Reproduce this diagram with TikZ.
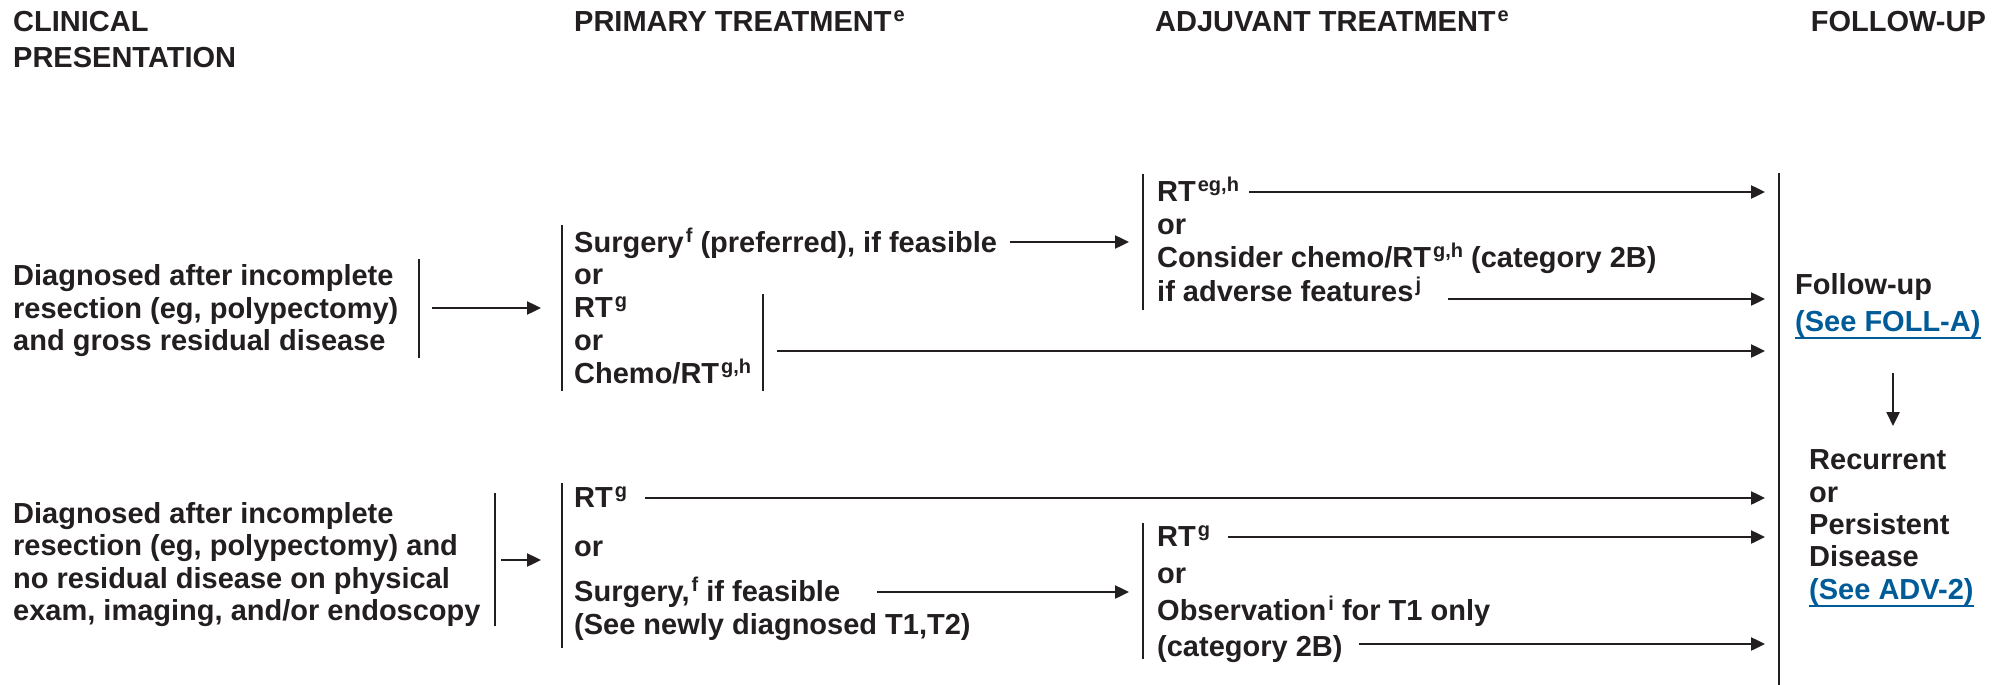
\documentclass[tikz,border=0pt]{standalone}
\usepackage{fontspec}
\setmainfont{Liberation Sans}
\usetikzlibrary{arrows.meta}
\definecolor{ink}{HTML}{231F20}
\definecolor{linkblue}{RGB}{0,91,153}
% raised footnote letters
\newcommand\sups[1]{\kern2pt\raisebox{0.34em}{\fontsize{20}{20}\selectfont #1}}
\begin{document}
\begin{tikzpicture}[x=1pt,y=-1pt,
  txt/.style={inner sep=0pt, anchor=base west, text=ink,
              font=\fontsize{29}{32}\selectfont\bfseries},
  lnk/.style={txt, text=linkblue},
  bar/.style={draw=ink, line width=2pt},
  arr/.style={draw=ink, line width=2.4pt, -{Triangle[length=14pt,width=13pt]}},
  uline/.style={draw=linkblue, line width=1.8pt}]
\useasboundingbox (0,0) rectangle (2005,685);

% ---- column headings
\node[txt] (hClin) at (13,31.5) {CLINICAL};
\node[txt] (hPres) at (13,67) {PRESENTATION};
\node[txt] (hPrim) at (574,31.5) {PRIMARY TREATMENT\sups{e}};
\node[txt] (hAdj)  at (1155,31.5) {ADJUVANT TREATMENT\sups{e}};
\node[txt, anchor=base east] (hFol) at (1986,31.5) {FOLLOW-UP};

% ---- reference x positions of the brackets and arrow targets
\coordinate (toAdj) at (1129,0);
\coordinate (toFol) at (1765,0);
\coordinate (toPri) at (541,0);

% ================= gross residual disease
\node[txt] (c1a) at (13,285.5) {Diagnosed after incomplete};
\node[txt] (c1b) at (13,318)   {resection (eg, polypectomy)};
\node[txt] (c1c) at (13,350.5) {and gross residual disease};
\draw[bar] (419,259) -- (419,358);
\coordinate (lb1) at (419,308);

\node[txt] (p1a) at (574,252)    {Surgery\sups{f} (preferred), if feasible};
\node[txt] (p1b) at (574,284.75) {or};
\node[txt] (p1c) at (574,317.5)  {RT\sups{g}};
\node[txt] (p1d) at (574,350.25) {or};
\node[txt] (p1e) at (574,383)    {Chemo/RT\sups{g,h}};
\draw[bar] (562,225) -- (562,391);
\draw[bar] (763,294) -- (763,391);
\coordinate (ib1) at (763,351);

\node[txt] (a1a) at (1157,201) {RT\sups{eg,h}};
\node[txt] (a1b) at (1157,234) {or};
\node[txt] (a1c) at (1157,267) {Consider chemo/RT\sups{g,h} (category 2B)};
\node[txt] (a1d) at (1157,301) {if adverse features\sups{j}};
\draw[bar] (1143,174) -- (1143,310);

\draw[arr] ([xshift=13pt]lb1) -- (lb1 -| toPri);
\draw[arr] ([xshift=13pt,yshift=10pt]p1a.base east) coordinate (s1) -- (s1 -| toAdj);
\draw[arr] ([xshift=14pt]ib1) -- (ib1 -| toFol);
\draw[arr] ([xshift=10pt,yshift=9pt]a1a.base east) coordinate (s2) -- (s2 -| toFol);
\draw[arr] ([xshift=27pt,yshift=2pt]a1d.base east) coordinate (s3) -- (s3 -| toFol);

% ================= no residual disease
\node[txt] (c2a) at (13,523)   {Diagnosed after incomplete};
\node[txt] (c2b) at (13,555.5) {resection (eg, polypectomy) and};
\node[txt] (c2c) at (13,588)   {no residual disease on physical};
\node[txt] (c2d) at (13,620.5) {exam, imaging, and/or endoscopy};
\draw[bar] (495,493) -- (495,626);
\coordinate (lb2) at (495,560);

\node[txt] (p2a) at (574,507) {RT\sups{g}};
\node[txt] (p2b) at (574,556) {or};
\node[txt] (p2c) at (574,601) {Surgery,\sups{f} if feasible};
\node[txt] (p2d) at (574,634) {(See newly diagnosed T1,T2)};
\draw[bar] (562,483) -- (562,648);

\node[txt] (a2a) at (1157,546) {RT\sups{g}};
\node[txt] (a2b) at (1157,583) {or};
\node[txt] (a2c) at (1157,620) {Observation\sups{i} for T1 only};
\node[txt] (a2d) at (1157,656) {(category 2B)};
\draw[bar] (1143,523) -- (1143,659);

\draw[arr] ([xshift=6pt]lb2) -- (lb2 -| toPri);
\draw[arr] ([xshift=18pt,yshift=9pt]p2a.base east) coordinate (s4) -- (s4 -| toFol);
\draw[arr] ([xshift=37pt,yshift=9pt]p2c.base east) coordinate (s5) -- (s5 -| toAdj);
\draw[arr] ([xshift=18pt,yshift=9pt]a2a.base east) coordinate (s6) -- (s6 -| toFol);
\draw[arr] ([xshift=16pt,yshift=12pt]a2d.base east) coordinate (s7) -- (s7 -| toFol);

% ================= follow-up column
\draw[bar] (1779,173) -- (1779,685);
\node[txt] (f1) at (1795,294) {Follow-up};
\node[lnk] (f2) at (1795,331) {(See FOLL-A)};
\draw[uline] ([yshift=-7pt]f2.base west) -- ([yshift=-7pt]f2.base east);

\node[txt] (r1) at (1809,469) {Recurrent};
\node[txt] (r2) at (1809,502) {or};
\node[txt] (r3) at (1809,534) {Persistent};
\node[txt] (r4) at (1809,566) {Disease};
\node[lnk] (r5) at (1809,599) {(See ADV-2)};
\draw[uline] ([yshift=-7pt]r5.base west) -- ([yshift=-7pt]r5.base east);

\coordinate (dTop) at (1893,373);
\coordinate (dBot) at (1893,426);
\draw[arr] (dTop) -- (dBot);
\end{tikzpicture}
\end{document}
